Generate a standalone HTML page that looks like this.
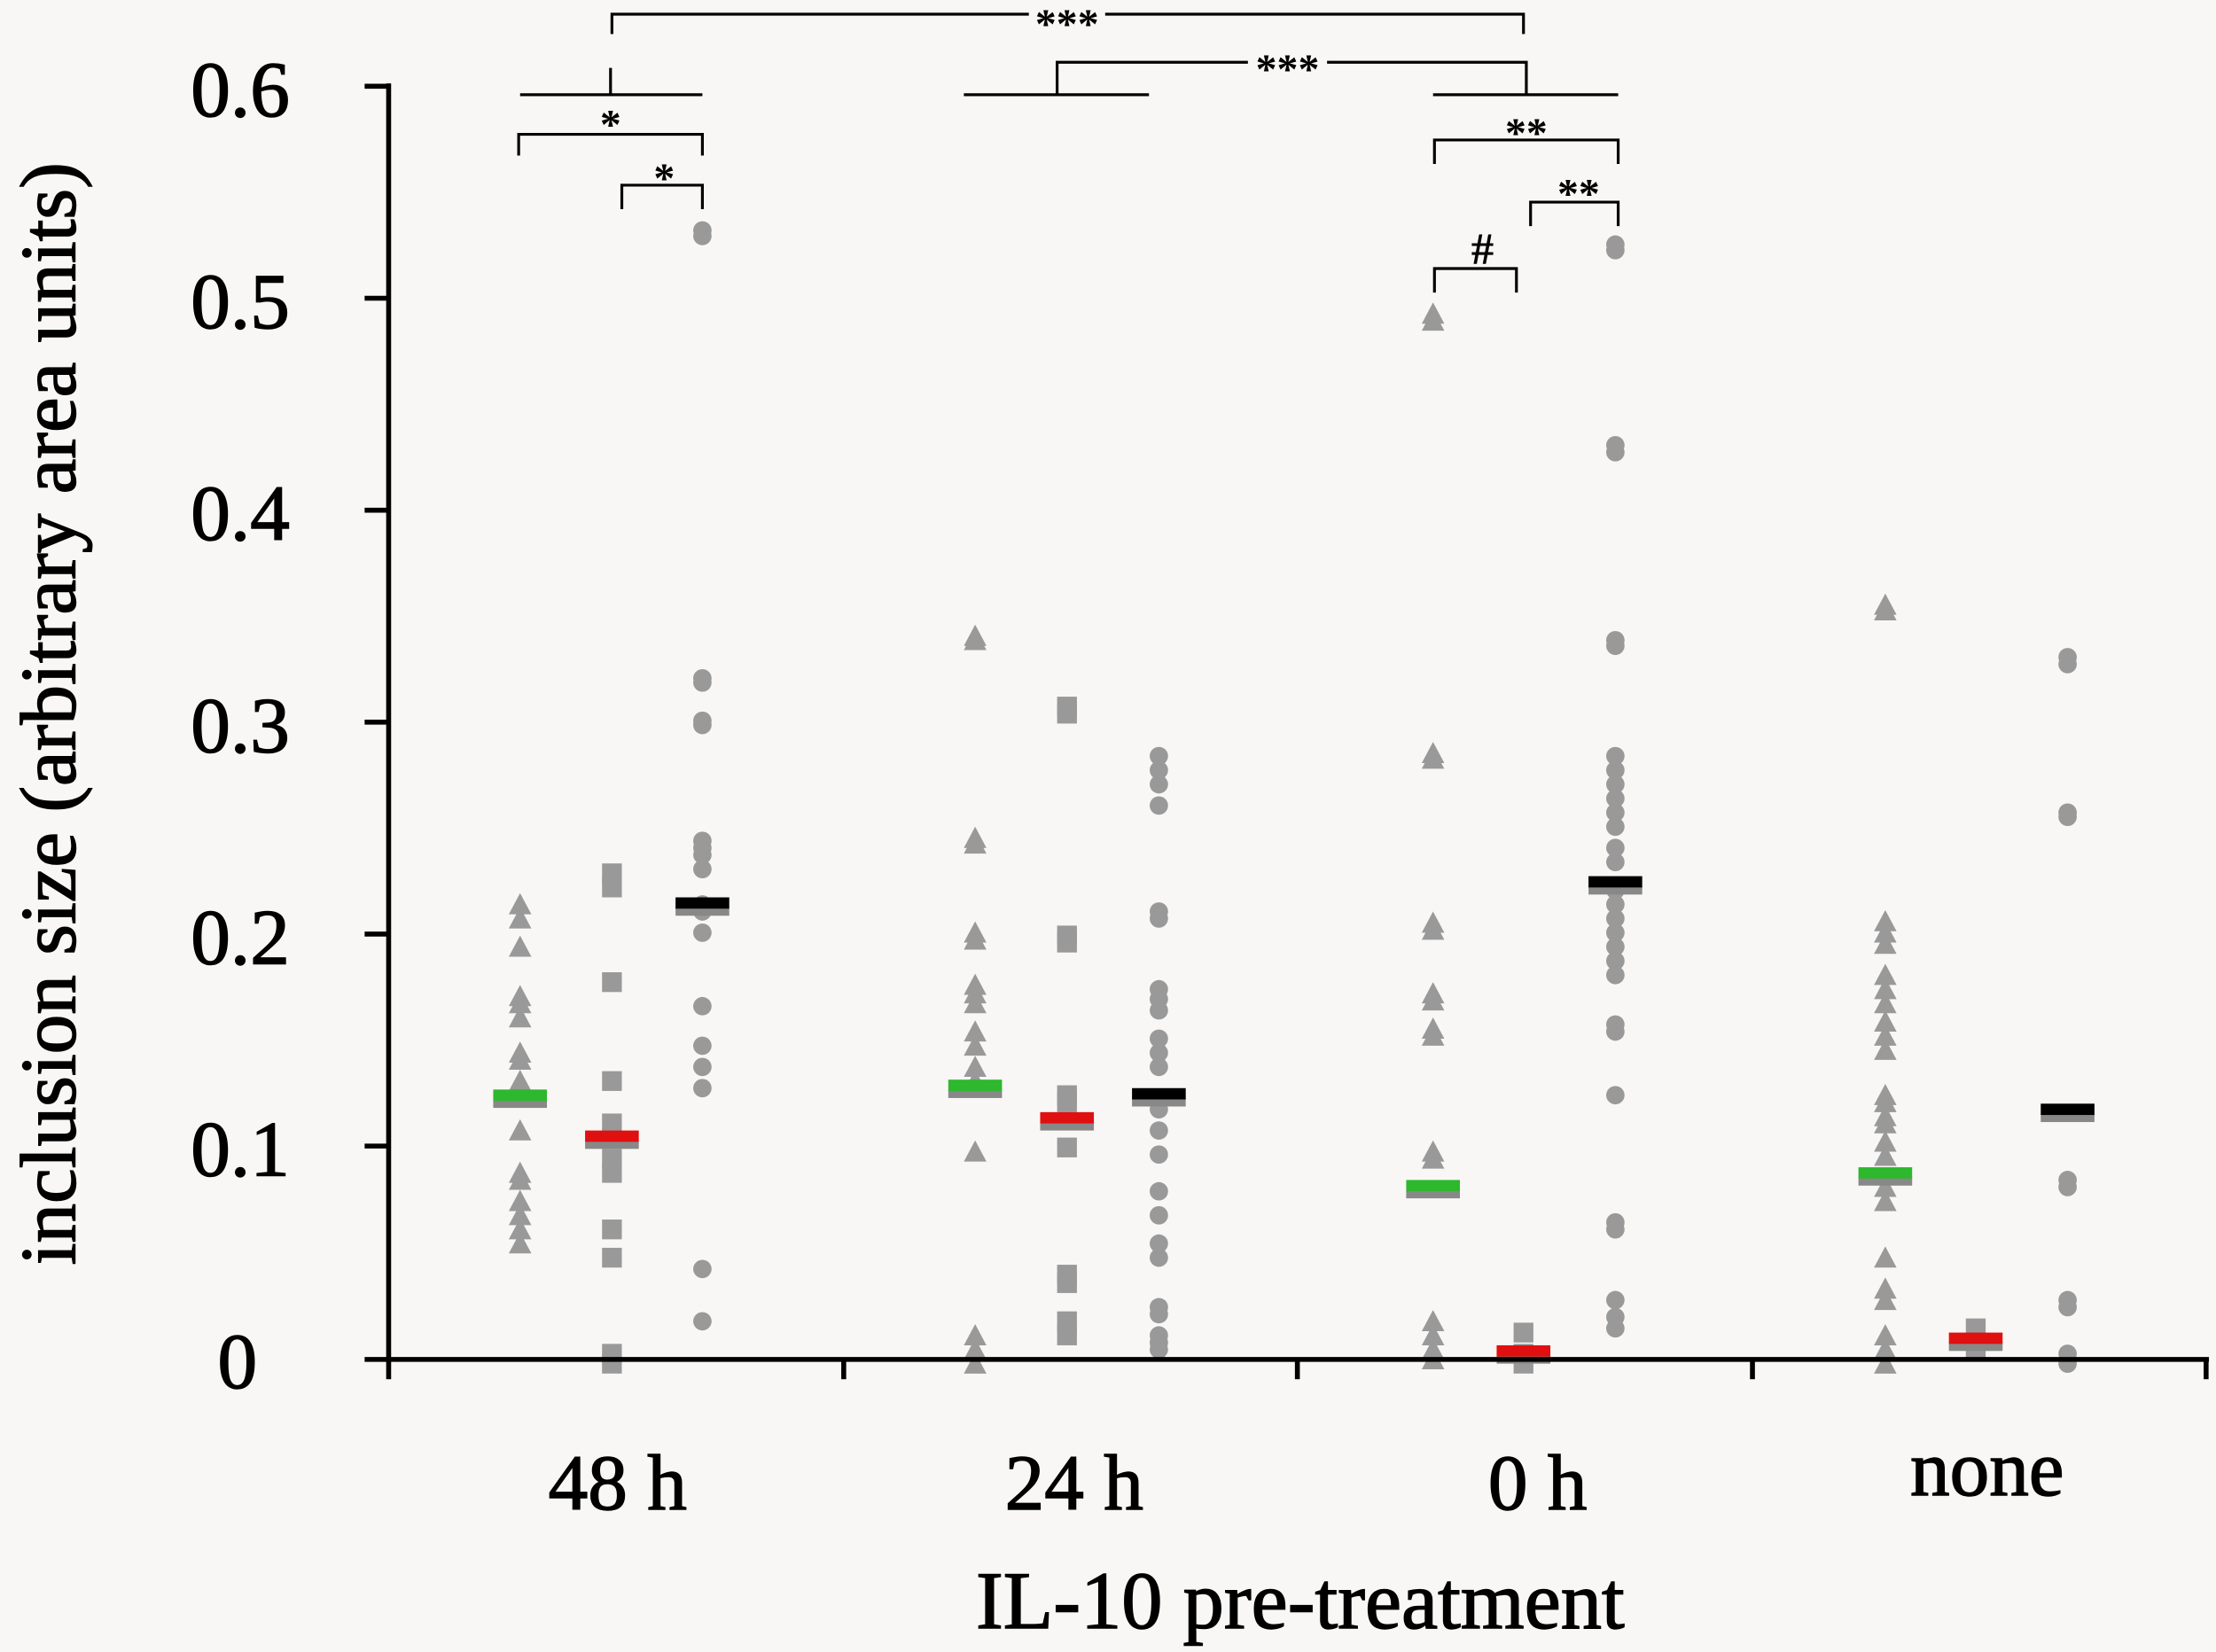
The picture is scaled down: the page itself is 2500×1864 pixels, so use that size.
<!DOCTYPE html>
<html><head><meta charset="utf-8"><style>
html,body{margin:0;padding:0;background:#f8f7f5;}
svg{display:block;}
text{font-family:"Liberation Serif",serif;fill:#000;}
.big{stroke:#000;stroke-width:0.9;}
</style></head><body>
<svg id="s" width="2500" height="1864" viewBox="0 0 1568 1169" xmlns="http://www.w3.org/2000/svg">
<rect width="1568" height="1169" fill="#f8f7f5"/>
<g id="pts"></g>
<g stroke="#000" stroke-width="3.5" fill="none">
<line x1="275" y1="59" x2="275" y2="964"/>
<line x1="273" y1="962" x2="1563" y2="962"/>
<line x1="258" y1="61" x2="275" y2="61"/>
<line x1="258" y1="211" x2="275" y2="211"/>
<line x1="258" y1="361" x2="275" y2="361"/>
<line x1="258" y1="511" x2="275" y2="511"/>
<line x1="258" y1="661" x2="275" y2="661"/>
<line x1="258" y1="811" x2="275" y2="811"/>
<line x1="258" y1="962" x2="275" y2="962"/>
<line x1="275" y1="962" x2="275" y2="976"/>
<line x1="597" y1="962" x2="597" y2="976"/>
<line x1="918" y1="962" x2="918" y2="976"/>
<line x1="1240" y1="962" x2="1240" y2="976"/>
<line x1="1561" y1="962" x2="1561" y2="976"/>
</g>
<g stroke="#000" stroke-width="2" fill="none">
<polyline points="433,24 433,10 1078,10 1078,24"/>
<polyline points="368,67 497,67"/><line x1="432" y1="48" x2="432" y2="67"/>
<polyline points="682,67 813,67"/><polyline points="748,67 748,44 1080,44 1080,67"/>
<polyline points="1014,67 1145,67"/>
<polyline points="367,110 367,95 497,95 497,110"/>
<polyline points="440,148 440,131 497,131 497,148"/>
<polyline points="1015,116 1015,99 1145,99 1145,116"/>
<polyline points="1083,160 1083,143 1145,143 1145,160"/>
<polyline points="1015,207 1015,190 1073,190 1073,207"/>
</g>
<rect x="728" y="3" width="54" height="16" fill="#f8f7f5"/>
<rect x="883" y="36" width="56" height="16" fill="#f8f7f5"/>
<g font-size="30" font-weight="bold" text-anchor="middle">
<text x="755" y="27">***</text>
<text x="911" y="59">***</text>
<text x="432" y="98">*</text>
<text x="470" y="136">*</text>
<text x="1080" y="104">**</text>
<text x="1117" y="147">**</text>
<text x="1049" y="187" font-size="32">#</text>
</g>
<g font-size="56" text-anchor="end" class="big">
<text x="205" y="82">0.6</text>
<text x="205" y="232">0.5</text>
<text x="205" y="382">0.4</text>
<text x="205" y="532">0.3</text>
<text x="205" y="682">0.2</text>
<text x="205" y="832">0.1</text>
<text x="182" y="982">0</text>
</g>
<g font-size="56" text-anchor="middle" class="big">
<text x="437" y="1068">48 h</text>
<text x="760" y="1068">24 h</text>
<text x="1088" y="1068">0 h</text>
<text x="1406" y="1058">none</text>
<text x="920" y="1152" font-size="58">IL-10 pre-treatment</text>
<text transform="translate(53,505) rotate(-90)" font-size="56">inclusion size (arbitrary area units)</text>
</g>
</svg>
<script>
var g=document.getElementById('pts'),NS='http://www.w3.org/2000/svg';
function el(t,a){var e=document.createElementNS(NS,t);for(var k in a)e.setAttribute(k,a[k]);g.appendChild(e);}
function tri(x,y){el('polygon',{points:(x-8)+','+(y+7)+' '+(x+8)+','+(y+7)+' '+x+','+(y-8),fill:'#999'});}
function sq(x,y){el('rect',{x:x-7,y:y-7,width:14,height:14,fill:'#999'});}
function ci(x,y){el('circle',{cx:x,cy:y,r:6.5,fill:'#999'});}
var D=[
[tri,368,[640,650,670,705,710,720,745,750,765,775,800,830,835,850,860,870,880]],
[sq,433,[618,628,695,765,795,805,820,830,870,890,958,965]],
[ci,497,[163,167,480,483,510,513,595,600,605,615,640,645,660,712,740,755,770,898,935]],
[tri,690,[450,453,593,597,660,665,697,703,710,730,740,755,765,815,945,955,965]],
[sq,755,[500,505,662,667,775,780,812,902,908,935,945]],
[ci,820,[535,545,555,570,645,650,700,707,715,735,745,755,785,800,817,843,860,880,890,925,930,945,950,955]],
[tri,1014,[222,227,533,537,653,658,703,708,728,733,815,820,935,945,955,962]],
[sq,1078,[943,958,965]],
[ci,1143,[173,177,315,320,453,457,535,545,555,565,575,585,600,610,630,640,650,660,670,680,690,725,730,775,865,870,920,932,940]],
[tri,1334,[428,432,652,660,668,690,700,710,723,733,743,775,780,790,795,808,818,840,850,890,912,920,945,955,965]],
[sq,1398,[940,955]],
[ci,1463,[465,470,575,578,835,840,920,925,958,965]]];
D.forEach(function(d){d[2].forEach(function(y){d[0](d[1],y);});});
var M=[[368,776,'#2db82d'],[433,805,'#e01010'],[497,640,'#000'],[690,769,'#2db82d'],[755,792,'#e01010'],[820,775,'#000'],[1014,840,'#2db82d'],[1078,957,'#e01010'],[1143,625,'#000'],[1334,831,'#2db82d'],[1398,948,'#e01010'],[1463,786,'#000']];
M.forEach(function(m){el('rect',{x:m[0]-19,y:m[1]+2,width:38,height:6,fill:'#888'});el('rect',{x:m[0]-19,y:m[1]-5,width:38,height:8,fill:m[2]});});
</script>
</body></html>
